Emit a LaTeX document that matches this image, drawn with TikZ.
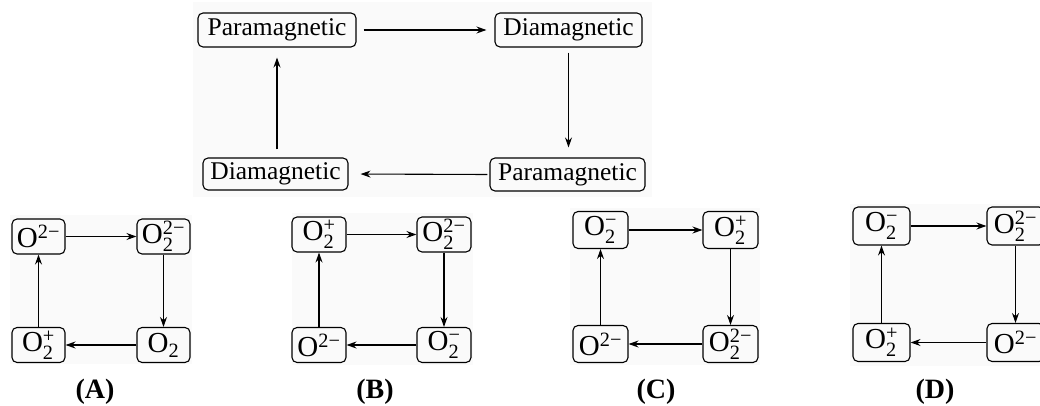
\documentclass[tikz,border=0pt]{standalone}
\usepackage{fontspec}
\usepackage{amsmath}
\setmainfont{Liberation Serif}
\usetikzlibrary{arrows.meta}
\newcommand\ionA[2]{O$_{\text{#1}}^{\text{#2}}$}
\newcommand\ionB[1]{O$^{\text{#1}}$}
\newcommand\ionC[1]{O$_{\text{#1}}$}
\begin{document}
\begin{tikzpicture}[x=1pt,y=-1pt,
  bigbox/.style={draw, rounded corners=5pt, line width=1.1pt, inner sep=0pt, minimum height=34pt, font=\fontsize{25.5}{28}\selectfont},
  ionbox/.style={draw, rounded corners=5pt, line width=1.1pt, inner sep=0pt, font=\fontsize{29}{32}\selectfont},
  flow/.style={line width=1.1pt, -{Stealth[length=10pt,width=7pt]}},
  lab/.style={font=\fontsize{28}{30}\selectfont\bfseries},
  bg/.style={fill=black!2, draw=none}]
\useasboundingbox (0,0) rectangle (1040,406);
\clip (0,0) rectangle (1040,406);
% faint backgrounds
\fill[bg] (193,2) rectangle (652,197);
\fill[bg] (10,215) rectangle (192,364);
\fill[bg] (292,213) rectangle (473,365);
\fill[bg] (570,208) rectangle (760,365);
\fill[bg] (850,204) rectangle (1040,366);
% top cycle
\node[bigbox, minimum width=158pt] (p1) at (277,30) {Paramagnetic};
\node[bigbox, minimum width=147pt] (d1) at (568.5,30) {Diamagnetic};
\node[bigbox, minimum width=155pt, minimum height=33pt] (p2) at (567.5,174.5) {Paramagnetic};
\node[bigbox, minimum width=145pt, minimum height=32pt] (d2) at (275.5,174) {Diamagnetic};
\draw[flow, shorten <=7pt, shorten >=8pt] (p1.east) -- (d1.west);
\draw[flow, shorten <=5pt, shorten >=10pt] (d1.south) -- (p2.north -| d1.south);
\draw[flow, shorten <=2pt, shorten >=12pt] (p2.west) -- (d2.east);
\draw[flow, shorten <=8pt, shorten >=10pt] (d2.north -| p1.south) -- (p1.south);
% panel A
\begin{scope}[every node/.append style={minimum width=53pt, minimum height=35pt}]
\node[ionbox] (a1) at (38.5,236.5) {\ionB{2−}};
\node[ionbox] (a2) at (163.5,236.5) {\ionA{2}{2−}};
\node[ionbox] (a3) at (163.5,345) {\ionC{2}};
\node[ionbox] (a4) at (38.5,345) {\ionA{2}{+}};
\end{scope}
\draw[flow] (a1) -- (a2);
\draw[flow] (a2) -- (a3);
\draw[flow] (a3) -- (a4);
\draw[flow] (a4) -- (a1);
\node[lab] (la) at (95,392) {(A)};
% panel B
\begin{scope}[every node/.append style={minimum width=54pt, minimum height=35pt}]
\node[ionbox] (b1) at (319,234.5) {\ionA{2}{+}};
\node[ionbox] (b2) at (444,234.5) {\ionA{2}{2−}};
\node[ionbox] (b3) at (444,345) {\ionA{2}{−}};
\node[ionbox] (b4) at (319,345) {\ionB{2−}};
\end{scope}
\draw[flow] (b1) -- (b2);
\draw[flow] (b2) -- (b3);
\draw[flow] (b3) -- (b4);
\draw[flow] (b4) -- (b1);
\node[lab] (lb) at (375,392) {(B)};
% panel C
\begin{scope}[every node/.append style={minimum width=55pt, minimum height=37pt}]
\node[ionbox] (c1) at (600.5,230) {\ionA{2}{−}};
\node[ionbox] (c2) at (730.5,230) {\ionA{2}{+}};
\node[ionbox] (c3) at (730.5,344) {\ionA{2}{2−}};
\node[ionbox] (c4) at (600.5,344) {\ionB{2−}};
\end{scope}
\draw[flow] (c1) -- (c2);
\draw[flow] (c2) -- (c3);
\draw[flow] (c3) -- (c4);
\draw[flow] (c4) -- (c1);
\node[lab] (lc) at (656,392) {(C)};
% panel D
\begin{scope}[every node/.append style={minimum width=57pt, minimum height=38pt}]
\node[ionbox] (e1) at (881.5,226) {\ionA{2}{−}};
\node[ionbox] (e2) at (1015.5,226) {\ionA{2}{2−}};
\node[ionbox] (e3) at (1015.5,342.5) {\ionB{2−}};
\node[ionbox] (e4) at (881.5,342.5) {\ionA{2}{+}};
\end{scope}
\draw[flow] (e1) -- (e2);
\draw[flow] (e2) -- (e3);
\draw[flow] (e3) -- (e4);
\draw[flow] (e4) -- (e1);
\node[lab] (ld) at (935,392) {(D)};
\end{tikzpicture}
\end{document}
